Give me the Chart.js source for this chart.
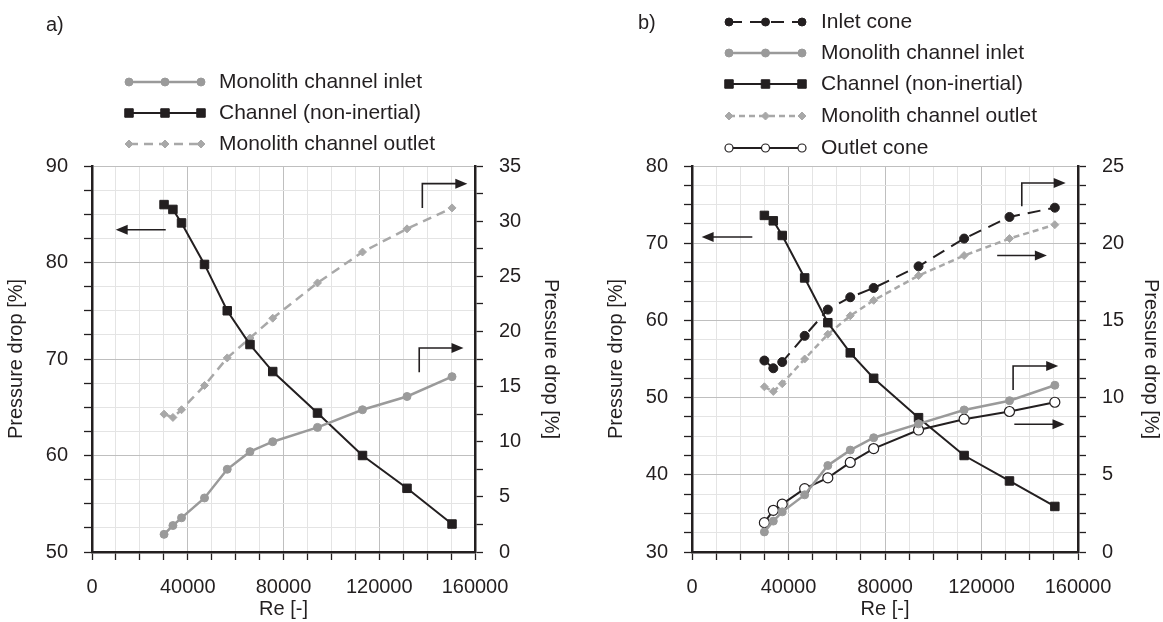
<!DOCTYPE html>
<html>
<head>
<meta charset="utf-8">
<title>Pressure drop vs Re</title>
<script src="https://cdn.jsdelivr.net/npm/chart.js@4/dist/chart.umd.min.js"></script>
<style>
  body { margin: 0; background: #fff; }
  #wrap { position: relative; width: 1163px; height: 622px; background: #fff; }
  canvas { position: absolute; top: 0; }
</style>
</head>
<body>
<div id="wrap">
  <canvas id="chartA" width="580" height="622" style="left:0"></canvas>
  <canvas id="chartB" width="583" height="622" style="left:580px"></canvas>
</div>
<script>
// Re values (x)
var reA = [30100, 33800, 37400, 47000, 56500, 66000, 75500, 94200, 113000, 131600, 150400];
var reB = [30000, 33700, 37400, 46700, 56300, 65600, 75300, 93900, 112800, 131600, 150400];

// panel a) series
var inletA = [1.6, 2.4, 3.1, 4.9, 7.5, 9.1, 10.0, 11.3, 12.9, 14.1, 15.9];          // right axis
var channelA = [86.0, 85.5, 84.1, 79.8, 75.0, 71.5, 68.7, 64.4, 60.0, 56.6, 52.9];  // left axis
var outletA = [12.5, 12.2, 12.9, 15.1, 17.6, 19.4, 21.2, 24.4, 27.2, 29.3, 31.2];   // right axis

// panel b) series
var inletConeB = [12.4, 11.9, 12.3, 14.0, 15.7, 16.5, 17.1, 18.5, 20.3, 21.7, 22.3]; // right
var inletB = [1.3, 2.0, 2.6, 3.7, 5.6, 6.6, 7.4, 8.3, 9.2, 9.8, 10.8];               // right
var channelB = [73.6, 72.9, 71.0, 65.5, 59.7, 55.8, 52.5, 47.4, 42.5, 39.2, 35.9];   // left
var outletB = [10.7, 10.4, 10.9, 12.5, 14.1, 15.3, 16.3, 17.9, 19.2, 20.3, 21.2];    // right
var outletConeB = [1.9, 2.7, 3.1, 4.1, 4.8, 5.8, 6.7, 7.9, 8.6, 9.1, 9.7];           // right

// tick labels
var xTicks = [0, 40000, 80000, 120000, 160000];
var leftTicksA = [50, 60, 70, 80, 90];
var rightTicksA = [0, 5, 10, 15, 20, 25, 30, 35];
var leftTicksB = [30, 40, 50, 60, 70, 80];
var rightTicksB = [0, 5, 10, 15, 20, 25];

// arrows pointing at the axis each curve belongs to (Re, value)
var arrowsA = [
  { axis: 'y', pts: [[30800, 83.4], [9900, 83.4]] },
  { axis: 'y1', pts: [[138000, 31.2], [138000, 33.4], [156800, 33.4]] },
  { axis: 'y1', pts: [[136700, 16.3], [136700, 18.5], [155200, 18.5]] }
];
var arrowsB = [
  { axis: 'y', pts: [[25000, 70.8], [4000, 70.8]] },
  { axis: 'y1', pts: [[136700, 22.4], [136700, 23.9], [154900, 23.9]] },
  { axis: 'y1', pts: [[126500, 19.2], [147100, 19.2]] },
  { axis: 'y1', pts: [[133100, 10.5], [133100, 12.05], [151800, 12.05]] },
  { axis: 'y1', pts: [[133600, 8.27], [154400, 8.27]] }
];

var black = '#231f20';
var gray = '#9a9a9a';
var grayLight = '#a8a8a8';
var fontFam = '"Liberation Sans", Arial, sans-serif';

function pts(xs, ys) {
  var out = [];
  for (var i = 0; i < xs.length; i++) out.push({ x: xs[i], y: ys[i] });
  return out;
}

// draws panel letter, the legend list and the arrows
var decorPlugin = {
  id: 'decor',
  afterDraw: function(chart, args, opts) {
    var ctx = chart.ctx;
    ctx.save();
    ctx.fillStyle = black;
    ctx.textBaseline = 'middle';
    ctx.textAlign = 'left';
    ctx.font = '20px ' + fontFam;
    ctx.fillText(opts.letter, opts.letterX, opts.letterY);

    // legend
    var lg = opts.legend;
    chart.data.datasets.forEach(function(ds, i) {
      var y = lg.rows[i];
      ctx.save();
      ctx.strokeStyle = ds.borderColor;
      ctx.lineWidth = ds.borderWidth;
      ctx.setLineDash(ds.borderDash || []);
      ctx.beginPath();
      ctx.moveTo(lg.x1, y);
      ctx.lineTo(lg.x2, y);
      ctx.stroke();
      ctx.setLineDash([]);
      ctx.fillStyle = ds.pointBackgroundColor;
      ctx.strokeStyle = ds.pointBorderColor;
      ctx.lineWidth = ds.pointBorderWidth;
      [lg.x1, (lg.x1 + lg.x2) / 2, lg.x2].forEach(function(px) {
        Chart.helpers.drawPoint(ctx, {
          pointStyle: ds.pointStyle,
          radius: ds.legendRadius || ds.pointRadius,
          borderWidth: ds.pointBorderWidth,
          rotation: 0
        }, px, y);
      });
      ctx.restore();
      ctx.fillStyle = black;
      ctx.font = '21px ' + fontFam;
      ctx.fillText(ds.label, lg.textX, y);
    });

    // arrows
    ctx.strokeStyle = black;
    ctx.fillStyle = black;
    ctx.lineWidth = 1.6;
    opts.arrows.forEach(function(a) {
      var ys = chart.scales[a.axis];
      var p = a.pts.map(function(q) {
        return [chart.scales.x.getPixelForValue(q[0]), ys.getPixelForValue(q[1])];
      });
      var n = p.length;
      var ang = Math.atan2(p[n - 1][1] - p[n - 2][1], p[n - 1][0] - p[n - 2][0]);
      ctx.beginPath();
      ctx.moveTo(p[0][0], p[0][1]);
      for (var i = 1; i < n - 1; i++) ctx.lineTo(p[i][0], p[i][1]);
      ctx.lineTo(p[n - 1][0] - 8 * Math.cos(ang), p[n - 1][1] - 8 * Math.sin(ang));
      ctx.stroke();
      var L = 12, W = 5;
      var tx = p[n - 1][0], ty = p[n - 1][1];
      ctx.beginPath();
      ctx.moveTo(tx, ty);
      ctx.lineTo(tx - L * Math.cos(ang) + W * Math.sin(ang), ty - L * Math.sin(ang) - W * Math.cos(ang));
      ctx.lineTo(tx - L * Math.cos(ang) - W * Math.sin(ang), ty - L * Math.sin(ang) + W * Math.cos(ang));
      ctx.closePath();
      ctx.fill();
    });
    ctx.restore();
  }
};

function gridColor(major) {
  return function(c) {
    if (!c.tick) return '#e4e4e4';
    return Math.abs(c.tick.value % major) < 1e-6 ? '#bfbfbf' : '#e4e4e4';
  };
}

function makeChart(id, o) {
  var tickFont = { family: fontFam, size: 20 };
  var titleFont = { family: fontFam, size: 20 };
  return new Chart(document.getElementById(id), {
    type: 'line',
    data: { datasets: o.datasets },
    plugins: [decorPlugin],
    options: {
      responsive: false,
      animation: false,
      devicePixelRatio: 1,
      layout: { padding: { top: 166, left: 0, right: 0, bottom: 0 } },
      elements: { line: { tension: 0 } },
      plugins: {
        legend: { display: false },
        tooltip: { enabled: false },
        decor: o.decor
      },
      scales: {
        x: {
          type: 'linear', min: 0, max: 160000,
          afterFit: function(s) { s.height = 70; },
          ticks: {
            stepSize: 10000, autoSkip: false, maxRotation: 0, padding: 15,
            color: black, font: tickFont,
            callback: function(v) { return xTicks.indexOf(v) >= 0 ? String(v) : ''; }
          },
          grid: { color: gridColor(40000), tickColor: black, tickLength: 8, tickWidth: 1.3, lineWidth: 1 },
          border: { color: black, width: 2.5 },
          title: { display: true, text: 'Re [-]', color: black, font: titleFont, padding: { top: 0, bottom: 1 } }
        },
        y: {
          position: 'left', min: o.left.min, max: o.left.max,
          afterFit: function(s) { s.width = o.left.width; },
          ticks: {
            stepSize: 2.5, autoSkip: false, padding: 16, color: black, font: tickFont,
            callback: function(v) { return o.left.labels.indexOf(v) >= 0 ? String(v) : ''; }
          },
          grid: { color: gridColor(10), tickColor: black, tickLength: 8, tickWidth: 1.3, lineWidth: 1 },
          border: { color: black, width: 2.5 },
          title: { display: true, text: 'Pressure drop [%]', color: black, font: titleFont, padding: { top: o.left.titlePad, bottom: 0 } }
        },
        y1: {
          position: 'right', min: o.right.min, max: o.right.max,
          afterFit: function(s) { s.width = o.right.width; },
          ticks: {
            stepSize: o.right.step, autoSkip: false, padding: 16, color: black, font: tickFont,
            callback: function(v) { return o.right.labels.indexOf(v) >= 0 ? String(v) : ''; }
          },
          grid: { drawOnChartArea: false, tickColor: black, tickLength: 8, tickWidth: 1.3 },
          border: { color: black, width: 2.5 },
          title: { display: true, text: 'Pressure drop [%]', color: black, font: titleFont, padding: { top: o.right.titlePad, bottom: 0 } }
        }
      }
    }
  });
}

// dataset styles
function dsInlet(data) {
  return { label: 'Monolith channel inlet', data: data, yAxisID: 'y1',
    borderColor: gray, borderWidth: 2.5, pointStyle: 'circle', pointRadius: 4, legendRadius: 4,
    pointBackgroundColor: gray, pointBorderColor: gray, pointBorderWidth: 1 };
}
function dsChannel(data) {
  return { label: 'Channel (non-inertial)', data: data, yAxisID: 'y',
    borderColor: black, borderWidth: 2, pointStyle: 'rect', pointRadius: 6, legendRadius: 6,
    pointBackgroundColor: black, pointBorderColor: black, pointBorderWidth: 1 };
}
function dsOutlet(data, dash) {
  return { label: 'Monolith channel outlet', data: data, yAxisID: 'y1',
    borderColor: grayLight, borderWidth: 2.5, borderDash: dash, pointStyle: 'rectRot', pointRadius: 4, legendRadius: 4,
    pointBackgroundColor: grayLight, pointBorderColor: grayLight, pointBorderWidth: 1 };
}

makeChart('chartA', {
  datasets: [
    dsInlet(pts(reA, inletA)),
    dsChannel(pts(reA, channelA)),
    dsOutlet(pts(reA, outletA), [9, 6])
  ],
  left: { min: 50, max: 90, width: 92, labels: leftTicksA, titlePad: 4 },
  right: { min: 0, max: 35, step: 2.5, width: 105, labels: rightTicksA, titlePad: 17 },
  decor: {
    letter: 'a)', letterX: 46, letterY: 25,
    legend: { x1: 129, x2: 201, textX: 219, rows: [82, 113, 144] },
    arrows: arrowsA
  }
});

makeChart('chartB', {
  datasets: [
    { label: 'Inlet cone', data: pts(reB, inletConeB), yAxisID: 'y1',
      borderColor: black, borderWidth: 2, borderDash: [13, 8], pointStyle: 'circle', pointRadius: 4.5, legendRadius: 4,
      pointBackgroundColor: black, pointBorderColor: black, pointBorderWidth: 1 },
    dsInlet(pts(reB, inletB)),
    dsChannel(pts(reB, channelB)),
    dsOutlet(pts(reB, outletB), [6, 4]),
    { label: 'Outlet cone', data: pts(reB, outletConeB), yAxisID: 'y1',
      borderColor: black, borderWidth: 2, pointStyle: 'circle', pointRadius: 5, legendRadius: 4,
      pointBackgroundColor: '#ffffff', pointBorderColor: black, pointBorderWidth: 1.2 }
  ],
  left: { min: 30, max: 80, width: 112, labels: leftTicksB, titlePad: 24 },
  right: { min: 0, max: 25, step: 1.25, width: 85, labels: rightTicksB, titlePad: 0 },
  decor: {
    letter: 'b)', letterX: 58, letterY: 23,
    legend: { x1: 149, x2: 222, textX: 241, rows: [22, 53, 84, 116, 148] },
    arrows: arrowsB
  }
});
</script>
</body>
</html>
